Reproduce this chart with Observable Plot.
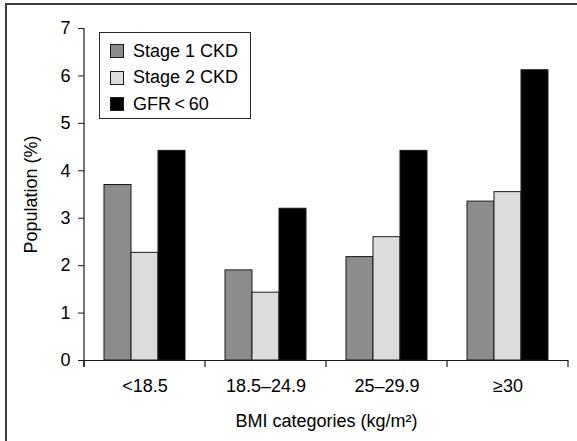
<!DOCTYPE html>
<html>
<head>
<meta charset="utf-8">
<script src="https://cdn.jsdelivr.net/npm/d3@7"></script>
<script src="https://cdn.jsdelivr.net/npm/@observablehq/plot@0.6"></script>
<style>
  html, body { margin: 0; padding: 0; background: #fff; }
  #wrap { position: relative; width: 577px; height: 441px; overflow: hidden; font-family: "Liberation Sans", Arial, Helvetica, sans-serif; }
  #border { position: absolute; left: 5px; top: 3px; width: 580px; height: 450px; border-left: 2px solid #3c3c3c; border-top: 2px solid #3c3c3c; }
  #chart { position: absolute; left: 0; top: 0; }
  #legend { position: absolute; left: 99px; top: 32px; width: 152px; height: 87px; border: 1px solid #2a2a2a; background: #fff; box-sizing: border-box; }
  .row { position: absolute; left: 10px; height: 20px; display: flex; align-items: center; font-size: 18px; color: #000; white-space: nowrap; }
  .sw { width: 12px; height: 12px; border: 1px solid #1a1a1a; margin-right: 9px; }
</style>
</head>
<body>
<div id="wrap">
  <div id="border"></div>
  <div id="chart"></div>
  <div id="legend"></div>
</div>
<script>
const categories = ["<18.5", "18.5–24.9", "25–29.9", "≥30"];
const series = ["Stage 1 CKD", "Stage 2 CKD", "GFR\u2009<\u200960"];
const stage1 = [3.70, 1.90, 2.18, 3.35];
const stage2 = [2.27, 1.43, 2.60, 3.55];
const gfrBelow60 = [4.42, 3.20, 4.42, 6.12];
const yTicks = [0, 1, 2, 3, 4, 5, 6, 7];
const colors = ["#8c8c8c", "#dcdcdc", "#000000"];

const values = [stage1, stage2, gfrBelow60];
const rows = [];
categories.forEach((c, i) => series.forEach((s, j) => rows.push({cat: c, series: s, value: values[j][i]})));

const font = '"Liberation Sans", Arial, Helvetica, sans-serif';

const plot = Plot.plot({
  width: 577,
  height: 441,
  marginLeft: 82,
  marginRight: 8,
  marginTop: 28,
  marginBottom: 81,
  style: {fontFamily: font, fontSize: "18px", color: "#000", background: "transparent", overflow: "visible"},
  fx: {domain: categories, padding: 0},
  x: {domain: series, paddingInner: 0, paddingOuter: 0.72, axis: null},
  y: {domain: [0, 7]},
  color: {domain: series, range: colors},
  marks: [
    Plot.barY(rows, {fx: "cat", x: "series", y: "value", fill: "series", stroke: "#1a1a1a", strokeWidth: 1}),
    Plot.ruleY([0], {stroke: "#1a1a1a", strokeWidth: 1.2}),
    Plot.axisY({ticks: yTicks, tickFormat: d => String(d), tickSize: 6, tickPadding: 8, stroke: "#1a1a1a", fill: "#000",
      fontSize: 18, label: "Population (%)", labelAnchor: "center", labelArrow: "none", labelOffset: 60}),
    Plot.axisFx({anchor: "bottom", tickSize: 0, tickPadding: 19, fill: "#000", fontSize: 18,
      label: "BMI categories (kg/m²)", labelAnchor: "center", labelArrow: "none", labelOffset: 66})
  ]
});

document.getElementById("chart").appendChild(plot);

// axis line and category boundary ticks from the library's scales
const fx = plot.scale("fx");
const y = plot.scale("y");
const svg = d3.select(plot);
const x0 = fx.apply(categories[0]);
const bounds = categories.map(c => fx.apply(c)).concat([fx.apply(categories[categories.length - 1]) + fx.bandwidth]);
const y0 = y.apply(0), yTop = y.apply(7);
const g = svg.append("g").attr("stroke", "#1a1a1a").attr("stroke-width", 1.2);
g.append("line").attr("x1", x0).attr("x2", x0).attr("y1", yTop).attr("y2", y0 + 7);
bounds.forEach(b => g.append("line").attr("x1", b).attr("x2", b).attr("y1", y0).attr("y2", y0 + 7));

// legend
const legend = document.getElementById("legend");
series.forEach((s, j) => {
  const r = document.createElement("div");
  r.className = "row";
  r.style.top = (8 + j * 26.5) + "px";
  const sw = document.createElement("div");
  sw.className = "sw";
  sw.style.background = colors[j];
  const t = document.createElement("span");
  t.textContent = s;
  r.appendChild(sw);
  r.appendChild(t);
  legend.appendChild(r);
});
</script>
</body>
</html>
